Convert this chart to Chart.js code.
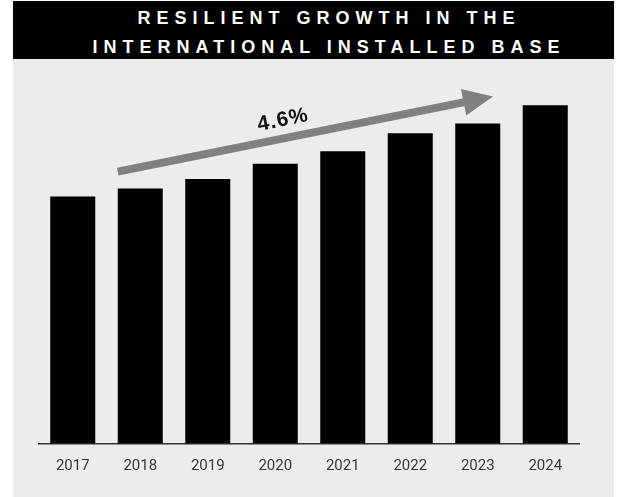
<!DOCTYPE html>
<html>
<head>
<meta charset="utf-8">
<script src="https://cdn.jsdelivr.net/npm/chart.js@4.4.1/dist/chart.umd.min.js"></script>
<style>
    html, body {
        margin: 0;
        padding: 0;
        background: #ffffff;
    }
    #titleBar {
        position: absolute;
        left: 13px;
        top: 1px;
        width: 601px;
        height: 58px;
        box-sizing: border-box;
        padding-top: 3px;
        padding-left: 31px;
        background: #000000;
        color: #ffffff;
        font-family: "Liberation Sans", Arial, sans-serif;
        font-weight: bold;
        font-size: 18px;
        line-height: 28.5px;
        letter-spacing: 6px;
        text-align: center;
    }
    #panel {
        position: absolute;
        left: 13px;
        top: 59px;
        width: 601px;
        height: 438px;
        background: #eeeceb;
    }
</style>
</head>
<body>
<div id="titleBar">RESILIENT GROWTH IN THE<br>INTERNATIONAL INSTALLED BASE</div>
<div id="panel"><canvas id="baseChart"></canvas></div>
<script>
// Installed base by year, indexed to 2017 = 100
const years = ['2017', '2018', '2019', '2020', '2021', '2022', '2023', '2024'];
const installedBase = [100, 103.2, 107.1, 113.3, 118.3, 125.6, 129.6, 136.9];

// Growth arrow, in chart units (x = category index, y = index value)
const cagrLabel = '4.6%';
const arrowFrom = { x: 0.667, y: 110.1 };
const arrowTo = { x: 6.226, y: 140.5 };

const growthArrow = {
    id: 'growthArrow',
    afterDatasetsDraw(chart) {
        const { ctx, scales: { x, y } } = chart;
        const x1 = x.getPixelForValue(arrowFrom.x);
        const y1 = y.getPixelForValue(arrowFrom.y);
        const x2 = x.getPixelForValue(arrowTo.x);
        const y2 = y.getPixelForValue(arrowTo.y);
        const angle = Math.atan2(y2 - y1, x2 - x1);
        const len = Math.hypot(x2 - x1, y2 - y1);
        const headLen = 30;
        const headHalf = 13.5;

        ctx.save();
        ctx.translate(x1, y1);
        ctx.rotate(angle);
        ctx.fillStyle = '#808080';
        // shaft
        ctx.fillRect(0, -4, len - headLen + 1, 8);
        // head
        ctx.beginPath();
        ctx.moveTo(len - headLen, -headHalf);
        ctx.lineTo(len, 0);
        ctx.lineTo(len - headLen, headHalf);
        ctx.closePath();
        ctx.fill();

        // growth rate label above the shaft
        ctx.fillStyle = '#111111';
        ctx.font = 'bold 21px "Liberation Sans", Arial, sans-serif';
        ctx.letterSpacing = '1px';
        ctx.textAlign = 'center';
        ctx.textBaseline = 'middle';
        ctx.fillText(cagrLabel, len * 0.45, -18);
        ctx.restore();
    }
};

const ctx = document.getElementById('baseChart').getContext('2d');
const chart = new Chart(ctx, {
    type: 'bar',
    data: {
        labels: years,
        datasets: [{
            data: installedBase,
            backgroundColor: '#000000',
            borderWidth: 0,
            categoryPercentage: 1,
            barPercentage: 0.667
        }]
    },
    options: {
        responsive: true,
        maintainAspectRatio: false,
        animation: false,
        layout: {
            padding: { left: 26, right: 35, top: 14, bottom: 7.5 }
        },
        plugins: {
            legend: { display: false },
            tooltip: { enabled: false }
        },
        scales: {
            x: {
                grid: { display: false, drawTicks: false },
                border: { display: true, color: '#333333', width: 1.5 },
                ticks: {
                    color: '#3a3a3a',
                    padding: 14,
                    font: { family: 'Roboto', size: 15 }
                }
            },
            y: {
                display: false,
                min: 0,
                max: 150
            }
        }
    },
    plugins: [growthArrow]
});
</script>
</body>
</html>
